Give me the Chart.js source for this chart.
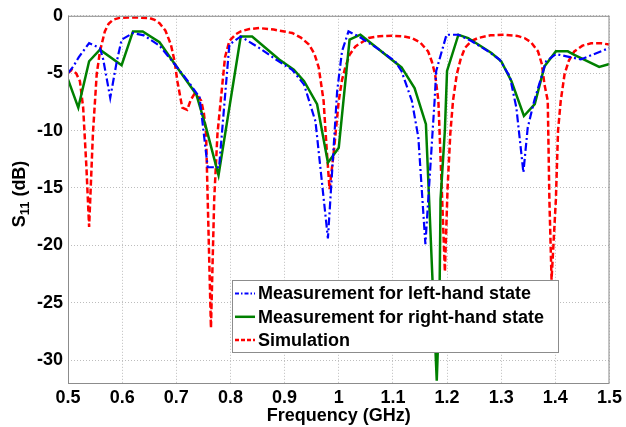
<!DOCTYPE html>
<html>
<head>
<meta charset="utf-8">
<script src="https://cdn.jsdelivr.net/npm/chart.js@4"></script>
<style>
  body { margin: 0; background: #fff; }
  #chart { display: block; }
</style>
</head>
<body>
<canvas id="chart" width="626" height="427"></canvas>
<script>
// values (frequency in GHz, S11 in dB)
const seriesNames = ['Measurement for left-hand state', 'Measurement for right-hand state', 'Simulation'];

const leftFreq = [0.500, 0.510, 0.520, 0.539, 0.559, 0.565, 0.578, 0.590, 0.599, 0.620, 0.640, 0.669, 0.700, 0.720, 0.743, 0.758, 0.779, 0.798, 0.819, 0.853, 0.890, 0.914, 0.936, 0.957, 0.980, 0.997, 1.006, 1.018, 1.037, 1.070, 1.104, 1.116, 1.135, 1.147, 1.160, 1.177, 1.180, 1.199, 1.221, 1.245, 1.276, 1.297, 1.316, 1.328, 1.341, 1.349, 1.361, 1.383, 1.401, 1.447, 1.500];
const leftS11 = [-5.0, -4.4, -3.6, -2.38, -2.8, -3.8, -7.15, -4.0, -2.08, -1.5, -1.7, -2.6, -4.4, -5.6, -7.1, -13.2, -13.2, -2.5, -1.8, -2.8, -4.0, -4.7, -6.0, -9.2, -19.4, -6.6, -3.1, -1.36, -1.8, -2.8, -3.96, -4.83, -7.4, -10.6, -19.9, -7.4, -4.8, -1.65, -1.65, -2.2, -3.1, -3.8, -5.3, -8.0, -13.65, -9.75, -7.4, -3.96, -3.33, -3.8, -2.8];

const rightFreq = [0.500, 0.519, 0.539, 0.559, 0.599, 0.620, 0.638, 0.669, 0.700, 0.737, 0.755, 0.778, 0.819, 0.840, 0.890, 0.917, 0.936, 0.960, 0.980, 1.000, 1.020, 1.040, 1.116, 1.140, 1.161, 1.181, 1.186, 1.188, 1.196, 1.200, 1.221, 1.239, 1.282, 1.300, 1.319, 1.342, 1.362, 1.380, 1.401, 1.423, 1.435, 1.481, 1.500];
const rightS11 = [-5.55, -8.0, -3.96, -2.95, -4.3, -1.36, -1.36, -2.3, -4.4, -6.85, -9.75, -13.9, -1.8, -1.8, -3.8, -4.7, -5.7, -7.7, -12.8, -11.5, -2.08, -1.65, -4.5, -6.3, -9.45, -31.8, -25, -16, -10, -4.8, -1.65, -1.94, -3.24, -3.96, -5.7, -8.73, -7.7, -4.4, -3.1, -3.1, -3.4, -4.45, -4.2];

const simFreq = [0.500, 0.507, 0.515, 0.522, 0.528, 0.534, 0.539, 0.546, 0.553, 0.559, 0.568, 0.575, 0.583, 0.595, 0.611, 0.630, 0.651, 0.660, 0.669, 0.680, 0.690, 0.697, 0.702, 0.711, 0.720, 0.727, 0.733, 0.740, 0.746, 0.751, 0.755, 0.758, 0.764, 0.770, 0.776, 0.782, 0.790, 0.798, 0.810, 0.819, 0.835, 0.853, 0.880, 0.914, 0.930, 0.945, 0.955, 0.963, 0.972, 0.978, 0.983, 0.991, 1.000, 1.006, 1.012, 1.020, 1.031, 1.055, 1.075, 1.098, 1.120, 1.135, 1.150, 1.165, 1.172, 1.178, 1.184, 1.191, 1.196, 1.201, 1.206, 1.211, 1.218, 1.225, 1.233, 1.245, 1.257, 1.280, 1.306, 1.330, 1.343, 1.355, 1.368, 1.375, 1.380, 1.386, 1.389, 1.393, 1.401, 1.405, 1.410, 1.417, 1.425, 1.435, 1.450, 1.466, 1.485, 1.500];
const simS11 = [-5.0, -4.7, -5.0, -5.7, -8.0, -13.2, -18.4, -10.3, -5.1, -3.1, -1.36, -0.7, -0.35, -0.18, -0.14, -0.15, -0.2, -0.35, -0.64, -1.3, -2.5, -4.0, -5.7, -8.0, -8.2, -7.3, -6.85, -7.0, -7.4, -8.5, -10.3, -16.0, -27.2, -16.0, -10.3, -7.4, -3.6, -2.2, -1.6, -1.36, -1.15, -1.07, -1.2, -1.5, -1.9, -2.5, -3.3, -4.5, -7.4, -11.8, -15.1, -11.8, -7.4, -5.6, -4.5, -3.4, -2.66, -1.94, -1.78, -1.73, -1.8, -1.94, -2.3, -3.1, -4.0, -5.1, -7.4, -16.0, -22.3, -15.0, -10.3, -7.4, -5.1, -3.8, -2.8, -2.2, -1.94, -1.7, -1.65, -1.75, -1.94, -2.3, -3.1, -4.2, -6.0, -7.4, -16.0, -23.0, -16.0, -10.0, -7.4, -5.1, -3.9, -3.1, -2.6, -2.4, -2.4, -2.5];

const xTicks = [0.5, 0.6, 0.7, 0.8, 0.9, 1.0, 1.1, 1.2, 1.3, 1.4, 1.5];
const yTicks = [-30, -25, -20, -15, -10, -5, 0];

const colors = ['#0000ff', '#008000', '#ff0000'];
const dashes = [[8, 3, 2, 3], [], [6, 3]];
const widths = [2.2, 2.5, 2.5];

function toPoints(xs, ys) {
  return xs.map((x, i) => ({ x: x, y: ys[i] }));
}

const FONT = '"Liberation Sans", Arial, sans-serif';

const framePlugin = {
  id: 'frame',
  afterDatasetsDraw(chart) {
    const { ctx, chartArea: a } = chart;
    ctx.save();
    ctx.strokeStyle = '#8c8c8c';
    ctx.lineWidth = 1;
    ctx.setLineDash([]);
    ctx.strokeRect(a.left + 0.5, a.top + 0.5, a.right - a.left - 1, a.bottom - a.top);

    // legend box
    const bx = 232, by = 280, bw = 326, bh = 72;
    ctx.fillStyle = '#fff';
    ctx.fillRect(bx, by, bw, bh);
    ctx.strokeStyle = '#8c8c8c';
    ctx.strokeRect(bx + 0.5, by + 0.5, bw, bh);
    ctx.font = 'bold 18px ' + FONT;
    ctx.textBaseline = 'middle';
    ctx.textAlign = 'left';
    seriesNames.forEach((name, i) => {
      const yy = 293.5 + i * 23.3;
      ctx.strokeStyle = colors[i];
      ctx.lineWidth = widths[i];
      ctx.setLineDash(i === 0 ? [4, 2, 1.5, 2] : (i === 2 ? [4, 2] : []));
      ctx.beginPath();
      ctx.moveTo(235, yy);
      ctx.lineTo(255, yy);
      ctx.stroke();
      ctx.setLineDash([]);
      ctx.fillStyle = '#000';
      ctx.fillText(name, 258, yy + 1);
    });

    // y axis title with subscript
    ctx.save();
    ctx.translate(25, 194);
    ctx.rotate(-Math.PI / 2);
    ctx.fillStyle = '#000';
    ctx.textBaseline = 'alphabetic';
    ctx.font = 'bold 18px ' + FONT;
    const sW = ctx.measureText('S').width;
    ctx.font = 'bold 13px ' + FONT;
    const subW = ctx.measureText('11').width;
    ctx.font = 'bold 18px ' + FONT;
    const restW = ctx.measureText(' (dB)').width;
    let x0 = -(sW + subW + restW) / 2;
    ctx.fillText('S', x0, 0);
    ctx.font = 'bold 13px ' + FONT;
    ctx.fillText('11', x0 + sW, 4);
    ctx.font = 'bold 18px ' + FONT;
    ctx.fillText(' (dB)', x0 + sW + subW, 0);
    ctx.restore();
    ctx.restore();
  }
};

new Chart(document.getElementById('chart'), {
  type: 'line',
  data: {
    datasets: [
      { label: seriesNames[0], data: toPoints(leftFreq, leftS11) },
      { label: seriesNames[1], data: toPoints(rightFreq, rightS11) },
      { label: seriesNames[2], data: toPoints(simFreq, simS11) }
    ].map((d, i) => Object.assign(d, {
      borderColor: colors[i],
      borderWidth: widths[i],
      borderDash: dashes[i],
      pointRadius: 0,
      fill: false,
      tension: 0
    }))
  },
  options: {
    responsive: false,
    animation: false,
    layout: { padding: { top: 14, right: 14, left: 0, bottom: 0 } },
    plugins: { legend: { display: false }, tooltip: { enabled: false } },
    scales: {
      x: {
        type: 'linear',
        min: 0.5,
        max: 1.5,
        afterBuildTicks: s => { s.ticks = xTicks.map(v => ({ value: v })); },
        afterFit: s => { s.height = 44; },
        ticks: {
          color: '#000',
          font: { family: FONT, size: 18, weight: 'bold' },
          padding: 4,
          maxRotation: 0,
          callback: v => String(Number(v.toFixed(1)))
        },
        grid: { color: '#bdbdbd', lineWidth: 1, drawTicks: false },
        border: { display: false, dash: [1, 2] },
        title: {
          display: true,
          text: 'Frequency (GHz)',
          color: '#000',
          font: { family: FONT, size: 18, weight: 'bold' },
          padding: { top: 0, bottom: 0 }
        }
      },
      y: {
        min: -32,
        max: 0,
        afterBuildTicks: s => { s.ticks = yTicks.map(v => ({ value: v })); },
        afterFit: s => { s.width = 68; },
        ticks: {
          color: '#000',
          font: { family: FONT, size: 18, weight: 'bold' },
          padding: 5
        },
        grid: { color: '#bdbdbd', lineWidth: 1, drawTicks: false },
        border: { display: false, dash: [1, 2] }
      }
    }
  },
  plugins: [framePlugin]
});
</script>
</body>
</html>
